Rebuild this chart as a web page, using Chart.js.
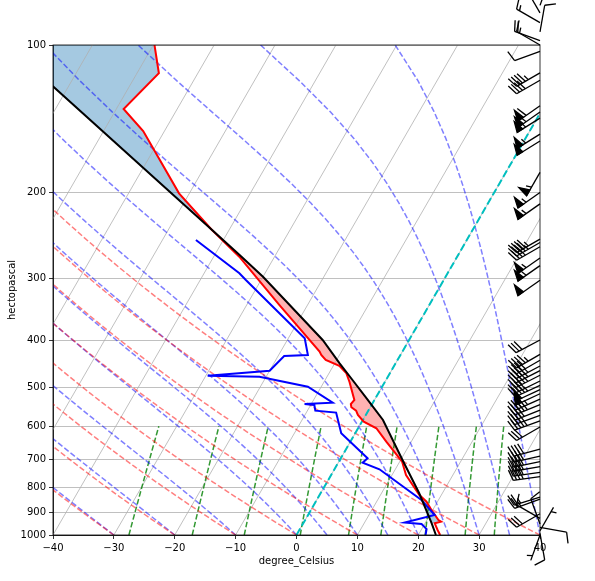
<!DOCTYPE html>
<html>
<head>
<meta charset="utf-8">
<script src="https://cdn.jsdelivr.net/npm/chart.js@4.4.0/dist/chart.umd.min.js"></script>
<style>
  html, body { margin: 0; padding: 0; background: #fff; }
</style>
</head>
<body>
<canvas id="skewt" width="595" height="581"></canvas>
<script>
// sounding, surface first (hPa / degC)
const tempP = [1000, 976.8, 946.5, 939.4, 932, 889.1, 855.3, 828.6, 754.3, 730, 708.6, 645.1, 605.6, 587.2, 568.9, 557.5, 548.7, 540.3, 530.2, 487.3, 467, 451.8, 439.3, 429.2, 422.4, 339.5, 270.4, 237.7, 200.8, 149.8, 135.1, 114.2, 100]
const tempT = [23.6, 22.7, 21.6, 22.5, 21.9, 19.8, 18.2, 16.4, 12.3, 11.3, 10.4, 5.9, 3.0, 0.3, -1.3, -2.0, -3.1, -3.5, -3.3, -5.8, -7.2, -9.0, -11.8, -13.0, -13.6, -24.6, -35.8, -43.0, -51.7, -63.5, -68.8, -66.4, -69.8]

const dewP = [1000, 972.3, 949.6, 943, 910.3, 848.2, 734.4, 711.8, 697.4, 620, 562.6, 557.5, 542.8, 540.3, 537, 498.1, 475.3, 473.1, 462, 431.2, 429.2, 396.9, 301.8, 292.4, 250]
const dewT = [21.2, 20.8, 19.5, 16.6, 20.8, 17.2, 7.4, 4.0, 4.4, -2.3, -5.1, -8.7, -9.4, -11.1, -6.6, -12.2, -21.1, -29.7, -20.0, -19.0, -15.2, -17.3, -32.5, -34.2, -44.5]

const parcelP = [1000, 946.5, 822, 703, 582.5, 530.2, 482.7, 446.3, 399.9, 297.1, 268.3, 237.7, 121.6, 100]
const parcelT = [22.9, 21.1, 16.2, 10.3, 3.3, -1.1, -5.5, -9.2, -14.2, -30.0, -35.9, -43.0, -82.5, -94.1]

// wind barbs: pressure, speed (kt), direction the wind comes from (deg)
const windP   = [83, 86, 90, 94, 98, 100, 103, 114, 118, 133, 137, 141, 152, 157, 182, 200, 211, 249, 253, 258, 272, 282, 302, 400, 428, 440, 452, 462, 472, 485, 495, 505, 515, 528, 542, 556, 570, 585, 602, 668, 690, 708, 725, 745, 760, 837, 845, 905, 925, 950, 965, 980, 992, 1000]
const windSpd = [15, 10, 15, 10, 20, 15, 10, 45, 40, 60, 55, 55, 55, 50, 55, 55, 55, 45, 45, 40, 55, 55, 50, 30, 45, 40, 45, 45, 45, 40, 45, 50, 50, 45, 45, 40, 40, 45, 30, 40, 40, 40, 40, 40, 40, 25, 25, 30, 10, 10, 10, 5, 10, 5]
const windDir = [20, 330, 300, 10, 290, 300, 250, 240, 240, 235, 235, 238, 238, 238, 210, 235, 235, 240, 240, 240, 235, 235, 235, 242, 240, 240, 242, 243, 243, 244, 245, 245, 245, 246, 248, 248, 250, 250, 240, 255, 257, 258, 260, 262, 262, 253, 250, 240, 300, 340, 100, 30, 170, 200]

// ticks
const xTicks = [-40, -30, -20, -10, 0, 10, 20, 30, 40]
const pTicks = [100, 200, 300, 400, 500, 600, 700, 800, 900, 1000]

// background reference lines (start values at 1000 hPa)
const isoT = [-100, -90, -80, -70, -60, -50, -40, -30, -20, -10, 0, 10, 20, 30, 40]
const dryT0 = [-40, -30, -20, -10, 0, 10, 20, 30, 40]
const moistT0 = [-40, -30, -20, -10, 0, 5, 10, 15, 20, 25, 30, 35, 40]
const mixW = [0.0004, 0.001, 0.002, 0.004, 0.007, 0.01, 0.016, 0.024, 0.032]

// shaded areas between temperature and parcel (pressure bounds)
const capeBounds = [[268, 710]]
const cinBounds = [[100, 271], [822, 947]]

let skew = Math.tan(Math.PI / 6) * 490 / (487 / 80)
const sx = (t, p) => t + skew * Math.log10(1000 / p)

// pressure levels for the background lines
const bgP = []
for (let i = 0; i < 50; i++) bgP.push(1000 - i * 900 / 49)
const mixP = []
for (let i = 0; i < 50; i++) mixP.push(1000 - i * 400 / 49)

const Rd = 287.04749, Cp = 1004.6662, Lv = 2.50084e6, eps = 0.6219569

function dryLine(t0) {
    return bgP.map(p => ((t0 + 273.15) * Math.pow(p / 1000, Rd / Cp) - 273.15))
}

function moistLine(t0) {
    const rate = (p, tk) => {
        const tc = tk - 273.15
        const es = 6.112 * Math.exp(17.67 * tc / (tc + 243.5))
        const rs = eps * es / (p - es)
        return (Rd * tk + Lv * rs) / (Cp + Lv * Lv * rs * eps / (Rd * tk * tk)) / p
    }
    let tk = t0 + 273.15, p = 1000
    const out = []
    bgP.forEach(target => {
        while (p > target + 1e-9) {
            const h = Math.max(-2, target - p)
            const k1 = rate(p, tk)
            const k2 = rate(p + h / 2, tk + h / 2 * k1)
            const k3 = rate(p + h / 2, tk + h / 2 * k2)
            const k4 = rate(p + h, tk + h * k3)
            tk += h / 6 * (k1 + 2 * k2 + 2 * k3 + k4)
            p += h
        }
        out.push(tk - 273.15)
    })
    return out
}

function mixLine(w) {
    return mixP.map(p => {
        const e = p * w / (eps + w)
        const l = Math.log(e / 6.112)
        return 243.5 * l / (17.67 - l)
    })
}

function line(pts, color, width, dash, order) {
    return {
        data: pts, borderColor: color, borderWidth: width, borderDash: dash || [],
        pointRadius: 0, showLine: true, fill: false, order: order, tension: 0
    }
}

function buildDatasets() {
    const ds = []
    isoT.forEach(t => ds.push(line([{x: sx(t, 1000), y: 1000}, {x: sx(t, 100), y: 100}], '#b0b0b0', 0.8, null, 9)))
    dryT0.forEach(t0 => {
        const tt = dryLine(t0)
        ds.push(line(bgP.map((p, i) => ({x: sx(tt[i], p), y: p})), 'rgba(255,0,0,0.5)', 1.5, [5.55, 2.4], 8))
    })
    moistT0.forEach(t0 => {
        const tt = moistLine(t0)
        ds.push(line(bgP.map((p, i) => ({x: sx(tt[i], p), y: p})), 'rgba(0,0,255,0.5)', 1.5, [5.55, 2.4], 8))
    })
    mixW.forEach(w => {
        const tt = mixLine(w)
        ds.push(line(mixP.map((p, i) => ({x: sx(tt[i], p), y: p})), 'rgba(0,128,0,0.8)', 1.5, [5.55, 2.4], 8))
    })
    // 0 degC isotherm
    ds.push(line([{x: sx(0, 1000), y: 1000}, {x: sx(0, 100), y: 100}], '#00bfbf', 2, [7.4, 3.2], 4))
    ds.push(line(tempP.map((p, i) => ({x: sx(tempT[i], p), y: p})), '#ff0000', 2, null, 3))
    ds.push(line(dewP.map((p, i) => ({x: sx(dewT[i], p), y: p})), '#0000ff', 2, null, 2))
    ds.push(line(parcelP.map((p, i) => ({x: sx(parcelT[i], p), y: p})), '#000000', 2, null, 1))
    return ds
}

// fill between temperature and parcel
const shadePlugin = {
    id: 'shade',
    beforeDatasetsDraw(chart) {
        const {ctx, chartArea: a, scales: {x, y}} = chart
        ctx.save()
        ctx.beginPath()
        ctx.rect(a.left, a.top, a.right - a.left, a.bottom - a.top)
        ctx.clip()
        const poly = (lo, hi, color) => {
            const pts = []
            tempP.forEach((p, i) => { if (p >= lo && p <= hi) pts.push([x.getPixelForValue(sx(tempT[i], p)), y.getPixelForValue(p)]) })
            for (let i = parcelP.length - 1; i >= 0; i--) {
                const p = parcelP[i]
                if (p >= lo && p <= hi) pts.push([x.getPixelForValue(sx(parcelT[i], p)), y.getPixelForValue(p)])
            }
            ctx.beginPath()
            pts.forEach((q, j) => j ? ctx.lineTo(q[0], q[1]) : ctx.moveTo(q[0], q[1]))
            ctx.closePath()
            ctx.fillStyle = color
            ctx.fill()
        }
        capeBounds.forEach(b => poly(b[0], b[1], 'rgba(255,0,0,0.3)'))
        cinBounds.forEach(b => poly(b[0], b[1], 'rgba(31,119,180,0.4)'))
        ctx.restore()
    }
}

function drawBarb(ctx, x0, y0, spd, dir) {
    const L = 27, sp = L * 0.125, H = L * 0.4, W = L * 0.25
    let mag = 5 * Math.round(spd / 5)
    const nFlag = Math.floor(mag / 50); mag -= nFlag * 50
    const nFull = Math.floor(mag / 10); mag -= nFull * 10
    const half = mag >= 5
    const r = dir * Math.PI / 180
    const s = [Math.sin(r), Math.cos(r)]    // staff, towards where the wind comes from
    const f = [Math.cos(r), -Math.sin(r)]   // feathers
    const pt = (a, b) => [x0 + b * s[0] + a * f[0], y0 - (b * s[1] + a * f[1])]
    ctx.beginPath()
    ctx.moveTo(...pt(0, 0))
    ctx.lineTo(...pt(0, L))
    ctx.stroke()
    let off = L
    for (let i = 0; i < nFlag; i++) {
        ctx.beginPath()
        ctx.moveTo(...pt(0, off))
        ctx.lineTo(...pt(H, off - W / 2))
        ctx.lineTo(...pt(0, off - W))
        ctx.closePath()
        ctx.fill()
        ctx.stroke()
        off -= W + sp
    }
    for (let i = 0; i < nFull; i++) {
        ctx.beginPath()
        ctx.moveTo(...pt(0, off))
        ctx.lineTo(...pt(H, off + W / 2))
        ctx.stroke()
        off -= sp
    }
    if (half) {
        if (off === L) off -= 1.5 * sp
        ctx.beginPath()
        ctx.moveTo(...pt(0, off))
        ctx.lineTo(...pt(H / 2, off + W / 4))
        ctx.stroke()
    }
}

const framePlugin = {
    id: 'frame',
    afterDraw(chart) {
        const {ctx, chartArea: a, scales: {y}} = chart
        ctx.save()
        ctx.strokeStyle = '#000'
        ctx.lineWidth = 0.8
        ctx.strokeRect(a.left, a.top, a.right - a.left, a.bottom - a.top)
        // wind barbs on the right edge
        ctx.lineWidth = 1.3
        ctx.fillStyle = '#000'
        ctx.lineJoin = 'miter'
        windP.forEach((p, i) => drawBarb(ctx, a.right, y.getPixelForValue(p), windSpd[i], windDir[i]))
        ctx.restore()
    }
}

Chart.defaults.font.family = 'DejaVu Sans'
Chart.defaults.font.size = 10
Chart.defaults.color = '#000'

const chart = new Chart(document.getElementById('skewt'), {
    type: 'scatter',
    data: { datasets: buildDatasets() },
    options: {
        responsive: false,
        animation: false,
        devicePixelRatio: 1,
        events: [],
        layout: { padding: { top: 45, right: 55, left: 0, bottom: 0 } },
        plugins: { legend: { display: false }, tooltip: { enabled: false } },
        scales: {
            x: {
                type: 'linear', min: -40, max: 40,
                afterBuildTicks: s => { s.ticks = xTicks.map(v => ({value: v})) },
                afterFit: s => { s.height = 46 },
                ticks: { autoSkip: false, maxRotation: 0, padding: 3, callback: v => String(v).replace('-', '\u2212') },
                grid: { drawOnChartArea: false, tickLength: 4, tickColor: '#000', tickWidth: 0.8 },
                border: { color: '#000', width: 0.8 },
                title: { display: true, text: 'degree_Celsius', padding: { top: 4, bottom: 14 } }
            },
            y: {
                type: 'logarithmic', reverse: true, min: 100, max: 1000,
                afterBuildTicks: s => { s.ticks = pTicks.map(v => ({value: v})) },
                afterFit: s => { s.width = 53 },
                ticks: { autoSkip: false, padding: 3, callback: v => String(v) },
                grid: { color: '#b0b0b0', lineWidth: 0.8, tickLength: 4, tickColor: '#000', tickWidth: 0.8 },
                border: { color: '#000', width: 0.8 },
                title: { display: true, text: 'hectopascal', padding: { top: 6, bottom: 4 } }
            }
        }
    },
    plugins: [shadePlugin, framePlugin]
})

// match the skew angle to the real plot area (30 degrees)
const ca = chart.chartArea
const k = Math.tan(Math.PI / 6) * (ca.bottom - ca.top) / ((ca.right - ca.left) / 80)
if (Math.abs(k - skew) > 0.01) {
    skew = k
    chart.data.datasets = buildDatasets()
    chart.update()
}
</script>
</body>
</html>
